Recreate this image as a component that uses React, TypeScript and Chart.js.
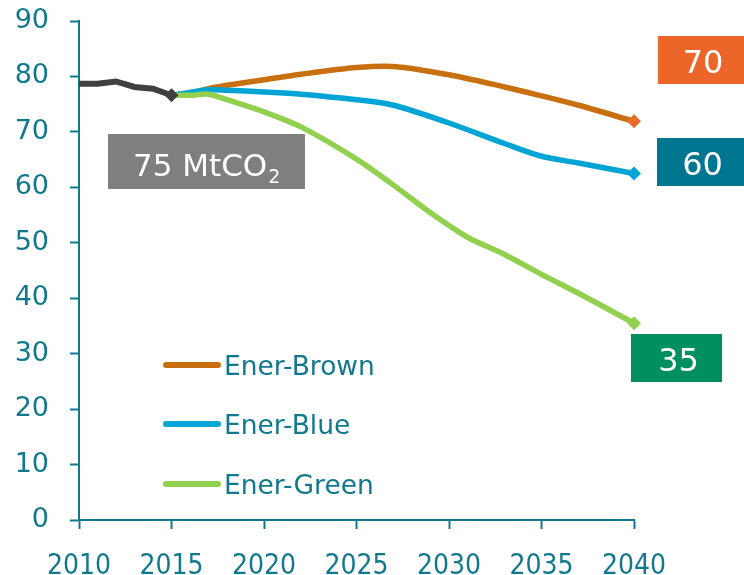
import { useEffect, useRef } from "react";
import { Chart, registerables } from "chart.js";

Chart.register(...registerables);

// Historical emissions (MtCO2)
const historyYears = [2010, 2011, 2012, 2013, 2014, 2015];
const historyValues = [78.7, 78.7, 79.1, 78.1, 77.8, 76.6];

// Scenario projections
const brownYears = [2015, 2016, 2017, 2018, 2020, 2022, 2025, 2027, 2030, 2033, 2035, 2037, 2040];
const brownValues = [76.6, 77.0, 77.8, 78.4, 79.4, 80.4, 81.6, 81.8, 80.3, 78.1, 76.5, 74.8, 71.9];

const blueYears = [2015, 2016, 2017, 2018, 2020, 2022, 2025, 2027, 2030, 2033, 2035, 2037, 2040];
const blueValues = [76.6, 77.1, 77.6, 77.5, 77.2, 76.8, 75.8, 74.8, 71.6, 67.9, 65.6, 64.4, 62.5];

const greenYears = [2015, 2016, 2017, 2018, 2020, 2022, 2025, 2027, 2029, 2031, 2033, 2035, 2037, 2040];
const greenValues = [76.6, 76.6, 76.8, 75.8, 73.6, 70.9, 65.1, 60.4, 55.4, 51.0, 47.9, 44.3, 40.9, 35.5];

const seriesNames = ["Ener-Brown", "Ener-Blue", "Ener-Green"];
const endLabels = ["70", "60", "35"];
const baseLabel = "75 MtCO";
const baseLabelSub = "2";

const xTicks = [2010, 2015, 2020, 2025, 2030, 2035, 2040];
const yTicks = [0, 10, 20, 30, 40, 50, 60, 70, 80, 90];

const AXIS = "#12788c";
const FONT = "'DejaVu Sans', Verdana, sans-serif";

const toPoints = (xs: number[], ys: number[]) => xs.map((x, i) => ({ x, y: ys[i] }));

const lastPointRadius = (r: number) => (ctx: any) =>
  ctx.dataIndex === ctx.dataset.data.length - 1 ? r : 0;

// Legend with short line samples, drawn inside the plot area
const innerLegend = {
  id: "innerLegend",
  afterDraw(chart: any) {
    const ctx = chart.ctx;
    const rows = [
      { name: seriesNames[0], color: "#c8700f", y: 365 },
      { name: seriesNames[1], color: "#00a5d6", y: 424 },
      { name: seriesNames[2], color: "#92d050", y: 484 },
    ];
    ctx.save();
    ctx.lineCap = "round";
    ctx.lineWidth = 6;
    ctx.font = `26.5px ${FONT}`;
    ctx.textBaseline = "alphabetic";
    rows.forEach((r) => {
      ctx.strokeStyle = r.color;
      ctx.beginPath();
      ctx.moveTo(166, r.y);
      ctx.lineTo(218, r.y);
      ctx.stroke();
      ctx.fillStyle = AXIS;
      ctx.fillText(r.name, 224, r.y + 10);
    });
    ctx.restore();
  },
};

// Value boxes at the right and the base-year box
const boxes = {
  id: "boxes",
  afterDraw(chart: any) {
    const ctx = chart.ctx;
    const specs = [
      { text: endLabels[0], bg: "#ec6629", x: 658, y: 36, w: 86, h: 48 },
      { text: endLabels[1], bg: "#007690", x: 657, y: 138, w: 87, h: 48 },
      { text: endLabels[2], bg: "#008f5f", x: 631, y: 334, w: 91, h: 48 },
    ];
    ctx.save();
    specs.forEach((s) => {
      ctx.fillStyle = s.bg;
      ctx.fillRect(s.x, s.y, s.w, s.h);
      ctx.fillStyle = "#ffffff";
      ctx.font = `32px ${FONT}`;
      ctx.textAlign = "center";
      ctx.textBaseline = "alphabetic";
      ctx.fillText(s.text, s.x + s.w / 2 + 2, s.y + 37);
    });
    ctx.fillStyle = "#7f7f7f";
    ctx.fillRect(108, 134, 197, 55);
    ctx.fillStyle = "#ffffff";
    ctx.textAlign = "left";
    ctx.font = `31px ${FONT}`;
    ctx.fillText(baseLabel, 133, 176);
    const w = ctx.measureText(baseLabel).width;
    ctx.font = `19px ${FONT}`;
    ctx.fillText(baseLabelSub, 133 + w + 1, 183);
    ctx.restore();
  },
};

export default function App() {
  const canvasRef = useRef<HTMLCanvasElement>(null);

  useEffect(() => {
    if (!canvasRef.current) return;
    const lineStyle = {
      borderWidth: 5.5,
      pointStyle: "rectRot",
      pointRadius: lastPointRadius(7),
      pointHoverRadius: lastPointRadius(7),
      pointBorderWidth: 0,
      clip: false,
    };
    const chart = new Chart(canvasRef.current, {
      type: "line",
      data: {
        datasets: [
          {
            ...lineStyle,
            label: "History",
            data: toPoints(historyYears, historyValues),
            borderColor: "#404040",
            backgroundColor: "#404040",
            borderWidth: 6,
            tension: 0,
          } as any,
          {
            ...lineStyle,
            label: seriesNames[2],
            data: toPoints(greenYears, greenValues),
            borderColor: "#92d050",
            backgroundColor: "#92d050",
            tension: 0.3,
          },
          {
            ...lineStyle,
            label: seriesNames[1],
            data: toPoints(blueYears, blueValues),
            borderColor: "#00a5d6",
            backgroundColor: "#00a5d6",
            tension: 0.3,
          },
          {
            ...lineStyle,
            label: seriesNames[0],
            data: toPoints(brownYears, brownValues),
            borderColor: "#c8700f",
            backgroundColor: "#ea6a2a",
            tension: 0.3,
          },
        ],
      },
      options: {
        responsive: false,
        animation: false,
        devicePixelRatio: 1,
        layout: { padding: { top: 21, right: 110, left: 0, bottom: 0 } },
        plugins: {
          legend: { display: false },
          tooltip: { enabled: false },
        },
        scales: {
          x: {
            type: "linear",
            min: 2010,
            max: 2040,
            afterFit: (s: any) => {
              s.height = 55;
              s.paddingLeft = 0;
              s.paddingRight = 0;
            },
            afterBuildTicks: (s: any) => {
              s.ticks = xTicks.map((v) => ({ value: v }));
            },
            border: { display: true, color: AXIS, width: 2 },
            grid: {
              display: true,
              drawOnChartArea: false,
              drawTicks: true,
              tickLength: 9,
              tickWidth: 2,
              color: AXIS,
            },
            ticks: {
              autoSkip: false,
              maxRotation: 0,
              padding: 21,
              color: AXIS,
              font: { family: "'DejaVu Sans Condensed', 'DejaVu Sans', sans-serif", size: 28 },
              callback: (v: any) => String(v),
            },
          },
          y: {
            min: 0,
            max: 90,
            afterFit: (s: any) => {
              s.width = 79;
              s.paddingTop = 0;
              s.paddingBottom = 0;
            },
            afterBuildTicks: (s: any) => {
              s.ticks = yTicks.map((v) => ({ value: v }));
            },
            border: { display: true, color: AXIS, width: 2 },
            grid: {
              display: true,
              drawOnChartArea: false,
              drawTicks: true,
              tickLength: 9,
              tickWidth: 2,
              color: AXIS,
            },
            ticks: {
              padding: 21,
              color: AXIS,
              font: { family: FONT, size: 27 },
              callback: (v: any) => String(v),
            },
          },
        },
      },
      plugins: [innerLegend, boxes],
    });
    return () => chart.destroy();
  }, []);

  return (
    <div style={{ position: "fixed", left: 0, top: 0, width: 744, height: 575, background: "#ffffff" }}>
      <canvas ref={canvasRef} width={744} height={575} style={{ display: "block" }} />
    </div>
  );
}
